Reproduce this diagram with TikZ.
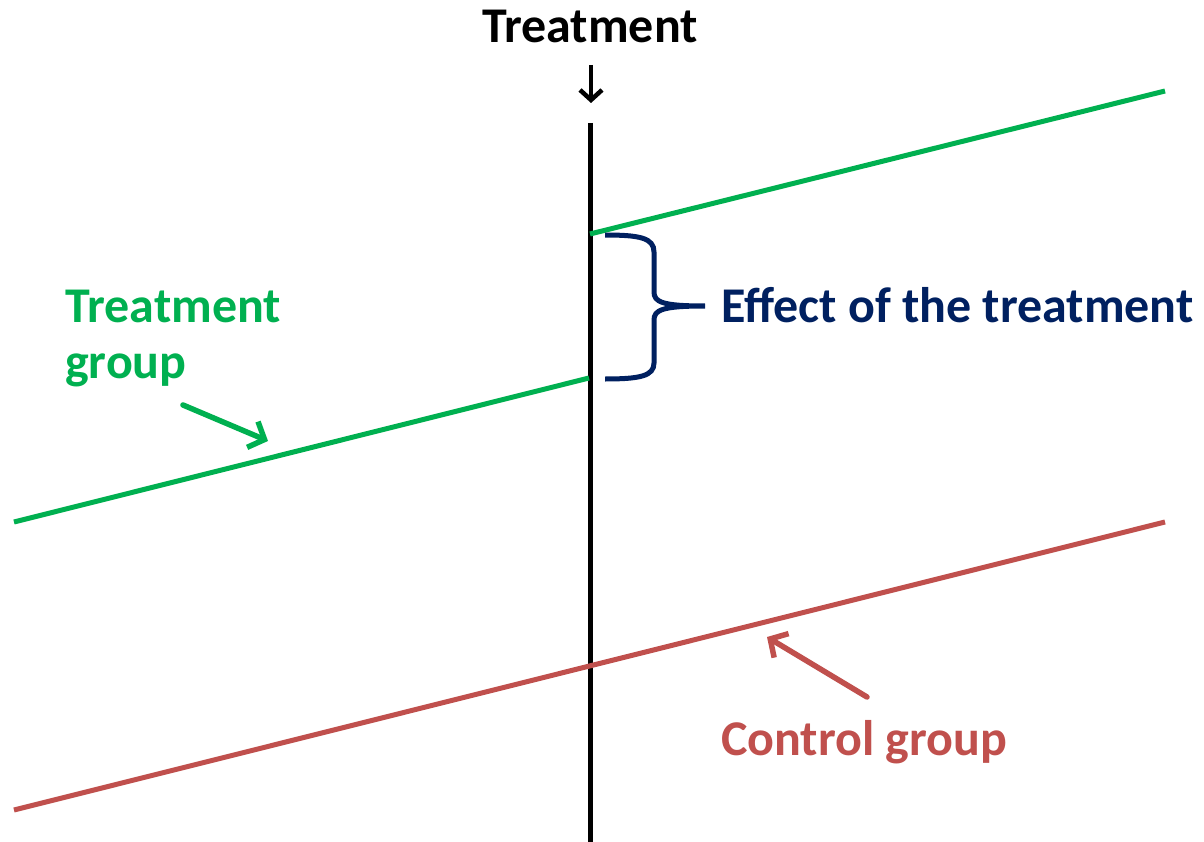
\documentclass[tikz,border=0pt]{standalone}
\usepackage{fontspec}
\setmainfont{Carlito}
\usetikzlibrary{arrows.meta}
\definecolor{tgreen}{HTML}{00B050}
\definecolor{tnavy}{HTML}{002060}
\definecolor{tred}{HTML}{C0504D}
\tikzset{
  lbl/.style={font=\fontsize{50}{57}\selectfont\bfseries, inner sep=0pt},
  trend/.style={line width=5pt},
  pointer/.style={line width=5.5pt, -{Straight Barb[length=13pt,width=28pt,line width=5.5pt]}, line cap=round}
}
\begin{document}
\begin{tikzpicture}[x=1pt,y=-1pt]
\useasboundingbox (0,0) rectangle (1204,842);
% time axis
\coordinate (axtop) at (590,123);
\coordinate (axbot) at (590,842);
\draw[line width=5pt] (axtop) -- (axbot);
\node[lbl, anchor=base] (treat) at (590,43) {Treatment};
\coordinate (tarrS) at (591,65);
\coordinate (tarrE) at (591,103);
\draw[line width=4.5pt, -{Straight Barb[length=10pt,width=22pt,line width=4.5pt]}] (tarrS) -- (tarrE);
% green lines
\coordinate (gu1) at (590,234);
\coordinate (gu2) at (1165,91);
\coordinate (gl1) at (14,522);
\coordinate (gl2) at (589,378);
\draw[trend, tgreen] (gu1) -- (gu2);
\draw[trend, tgreen] (gl1) -- (gl2);
% red line
\coordinate (r1) at (14,810);
\coordinate (r2) at (1165,522);
\draw[trend, tred] (r1) -- (r2);
% brace
\coordinate (btop) at (605,235);
\coordinate (bbot) at (605,379);
\coordinate (btip) at (705,306);
\draw[line width=5pt, tnavy]
  (btop) .. controls (640,235) and (654,238) .. (654,252) -- (654,292)
  .. controls (654,302) and (662,306) .. (btip)
  .. controls (662,306) and (654,310) .. (654,320) -- (654,363)
  .. controls (654,376) and (640,379) .. (bbot);
\node[lbl, tnavy, anchor=base west] (effect) at (721,322) {Effect of the treatment};
% treatment group label
\node[lbl, tgreen, anchor=base west] (tg1) at (65,322) {Treatment};
\node[lbl, tgreen, anchor=base west] (tg2) at (65,378) {group};
\coordinate (ga1) at (183,405);
\coordinate (ga2) at (268,441);
\draw[pointer, tgreen] (ga1) -- (ga2);
% control group label
\node[lbl, tred, anchor=base west] (cg) at (721,755) {Control group};
\coordinate (ra1) at (867,697);
\coordinate (ra2) at (767,637);
\draw[pointer, tred] (ra1) -- (ra2);
\end{tikzpicture}
\end{document}
